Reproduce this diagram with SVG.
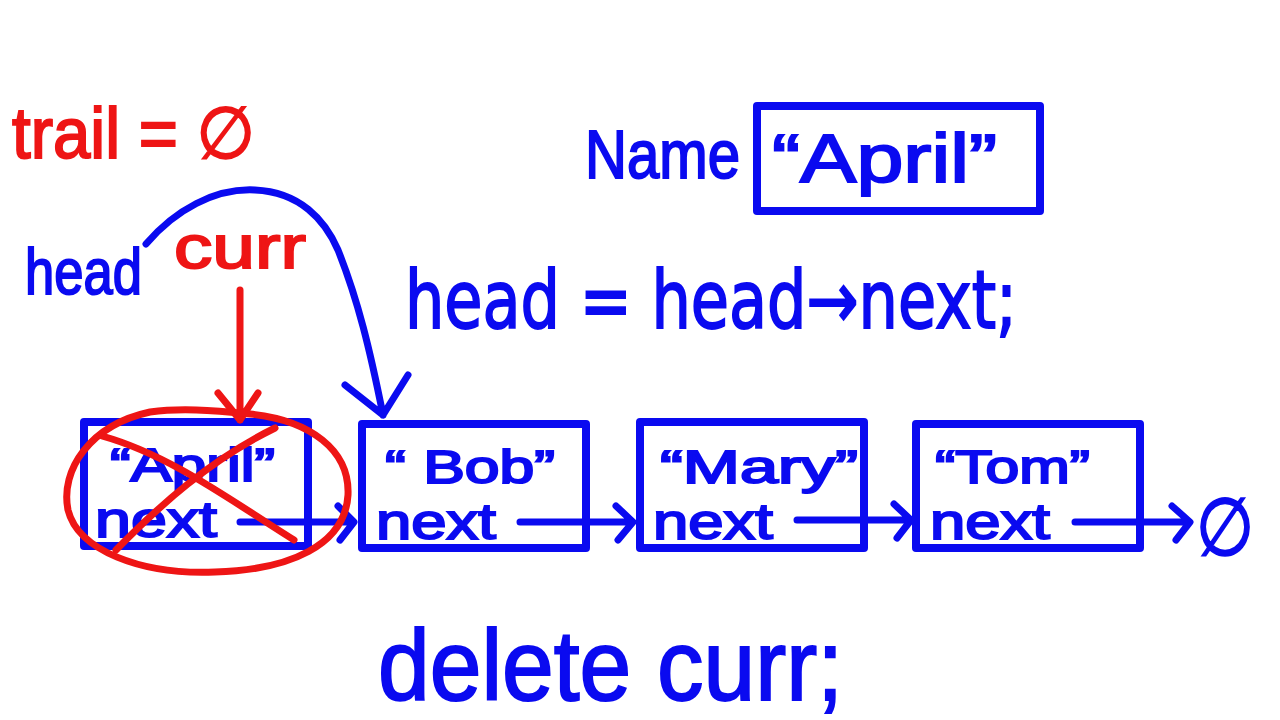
<svg xmlns="http://www.w3.org/2000/svg" width="1280" height="720" viewBox="0 0 1280 720">
<style>
.b{fill:#0a0af0;stroke:#0a0af0;stroke-width:2;font-family:"Liberation Sans","DejaVu Sans",sans-serif}
.r{fill:#ee1515;stroke:#ee1515;stroke-width:2;font-family:"Liberation Sans","DejaVu Sans",sans-serif}
.dj{font-family:"DejaVu Sans","Liberation Sans",sans-serif}
.nl{font-size:46px}
.nx{font-size:50px}
.box{fill:none;stroke:#0a0af0;stroke-width:8;stroke-linejoin:round}
.bl{fill:none;stroke:#0a0af0;stroke-width:7;stroke-linecap:round;stroke-linejoin:round}
.rl{fill:none;stroke:#ee1515;stroke-width:7;stroke-linecap:round;stroke-linejoin:round}
</style>
<rect width="1280" height="720" fill="#ffffff"/>

<g id="trail-label"><text class="r" x="12" y="158" font-size="72" textLength="243" lengthAdjust="spacingAndGlyphs">trail = ∅</text></g>
<g id="head-label"><text class="b" x="25" y="294" font-size="64" textLength="117" lengthAdjust="spacingAndGlyphs">head</text></g>
<g id="curr-label"><text class="r" x="174" y="268" font-size="62" textLength="132" lengthAdjust="spacingAndGlyphs">curr</text></g>

<g id="name-var">
<text class="b" x="585" y="178" font-size="68" textLength="155" lengthAdjust="spacingAndGlyphs">Name</text>
<rect class="box" x="757" y="106" width="283" height="105"/>
<text class="b" x="772" y="182" font-size="68" textLength="225" lengthAdjust="spacingAndGlyphs">“April”</text>
</g>

<g id="code1"><text class="b dj" x="405" y="328" font-size="80" textLength="612" lengthAdjust="spacingAndGlyphs">head = head→next;</text></g>
<g id="code2"><text class="b" x="378" y="700" font-size="100" textLength="465" lengthAdjust="spacingAndGlyphs">delete curr;</text></g>

<g id="node-april">
<rect class="box" x="84" y="422" width="224" height="124"/>
<text class="b nl" x="110" y="481" textLength="165" lengthAdjust="spacingAndGlyphs">“April”</text>
<text class="b nx" x="95" y="537" textLength="122" lengthAdjust="spacingAndGlyphs">next</text>
</g>
<g id="node-bob">
<rect class="box" x="362" y="424" width="224" height="124"/>
<text class="b nl" x="385" y="483" textLength="170" lengthAdjust="spacingAndGlyphs">“ Bob”</text>
<text class="b nx" x="376" y="539" textLength="120" lengthAdjust="spacingAndGlyphs">next</text>
</g>
<g id="node-mary">
<rect class="box" x="640" y="422" width="224" height="126"/>
<text class="b nl" x="660" y="483" textLength="198" lengthAdjust="spacingAndGlyphs">“Mary”</text>
<text class="b nx" x="653" y="539" textLength="120" lengthAdjust="spacingAndGlyphs">next</text>
</g>
<g id="node-tom">
<rect class="box" x="916" y="424" width="224" height="124"/>
<text class="b nl" x="935" y="483" textLength="155" lengthAdjust="spacingAndGlyphs">“Tom”</text>
<text class="b nx" x="930" y="539" textLength="120" lengthAdjust="spacingAndGlyphs">next</text>
</g>
<g id="null-end"><text class="b" x="1196" y="555" font-size="80" textLength="58" lengthAdjust="spacingAndGlyphs">∅</text></g>

<g id="connectors">
<path class="bl" d="M240 522 L352 522 M338 506 L354 522 L340 540"/>
<path class="bl" d="M520 522 L632 522 M616 506 L633 522 L618 540"/>
<path class="bl" d="M797 520 L910 520 M894 504 L911 520 L897 538"/>
<path class="bl" d="M1075 522 L1188 522 M1172 506 L1190 522 L1176 540"/>
<path class="bl" d="M146 244 C175 210 215 188 255 190 C300 192 325 220 338 250 C358 300 370 350 383 415 M345 385 L383 415 L408 375"/>
<path class="rl" d="M240 290 L240 420 M218 393 L240 420 L258 393"/>
<path class="rl" d="M150 412 C90 425 60 470 68 510 C78 550 140 575 215 572 C290 570 345 545 348 495 C350 450 310 420 250 414 C210 410 180 408 150 412 Z"/>
<path class="rl" d="M102 436 C170 455 230 500 294 540 M275 428 C210 460 160 505 116 550"/>
</g>
</svg>
